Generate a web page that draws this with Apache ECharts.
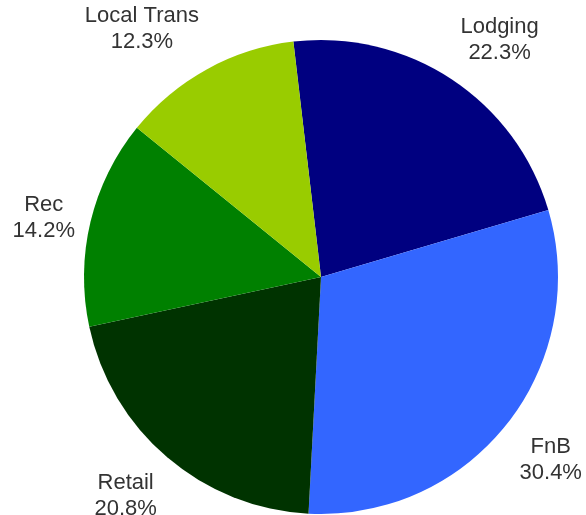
<!DOCTYPE html>
<html>
<head>
<meta charset="utf-8">
<script src="https://cdn.jsdelivr.net/npm/echarts@6/dist/echarts.min.js"></script>
<style>
  html, body { margin: 0; padding: 0; background: #fff; }
  #chart { width: 586px; height: 515px; }
</style>
</head>
<body>
<div id="chart"></div>
<script>
// slice names and shares (percent), clockwise from the top
var categories = ['Lodging', 'FnB', 'Retail', 'Rec', 'Local Trans'];
var shares = [22.3, 30.4, 20.8, 14.2, 12.3];
var colors = ['#000080', '#3366ff', '#003300', '#008000', '#99cc00'];

var myChart = echarts.init(document.getElementById('chart'));

var pieData = categories.map(function (name, i) {
  return { name: name, value: shares[i], itemStyle: { color: colors[i] } };
});

var option = {
  animation: false,
  series: [
    {
      type: 'pie',
      center: [321, 277],
      radius: 237,
      startAngle: 96.7,
      clockwise: true,
      avoidLabelOverlap: false,
      data: pieData,
      itemStyle: { borderWidth: 0 },
      label: {
        show: true,
        position: 'outside',
        bleedMargin: 0,
        distanceToLabelLine: 0,
        formatter: function (p) {
          return '{t|' + p.name + '}\n{t|' + p.value.toFixed(1) + '%}';
        },
        rich: {
          t: {
            align: 'center',
            fontFamily: '"Liberation Sans", Arial, sans-serif',
            fontSize: 22,
            lineHeight: 26,
            color: '#333333'
          }
        }
      },
      labelLine: {
        show: true,
        length: 16,
        length2: 0,
        lineStyle: { opacity: 0 }
      },
      // put the corner of each label box nearest the pie on the guide point
      labelLayout: function (params) {
        var pts = params.labelLinePoints;
        if (!pts) return {};
        var dx = pts[1][0] - pts[0][0];
        var dy = pts[1][1] - pts[0][1];
        var len = Math.sqrt(dx * dx + dy * dy) || 1;
        var ux = dx / len, uy = dy / len;
        return {
          x: pts[1][0],
          y: pts[1][1],
          align: Math.abs(ux) < 0.2 ? 'center' : (ux > 0 ? 'left' : 'right'),
          verticalAlign: Math.abs(uy) < 0.35 ? 'middle' : (uy > 0 ? 'top' : 'bottom')
        };
      }
    }
  ]
};

myChart.setOption(option);
</script>
</body>
</html>
